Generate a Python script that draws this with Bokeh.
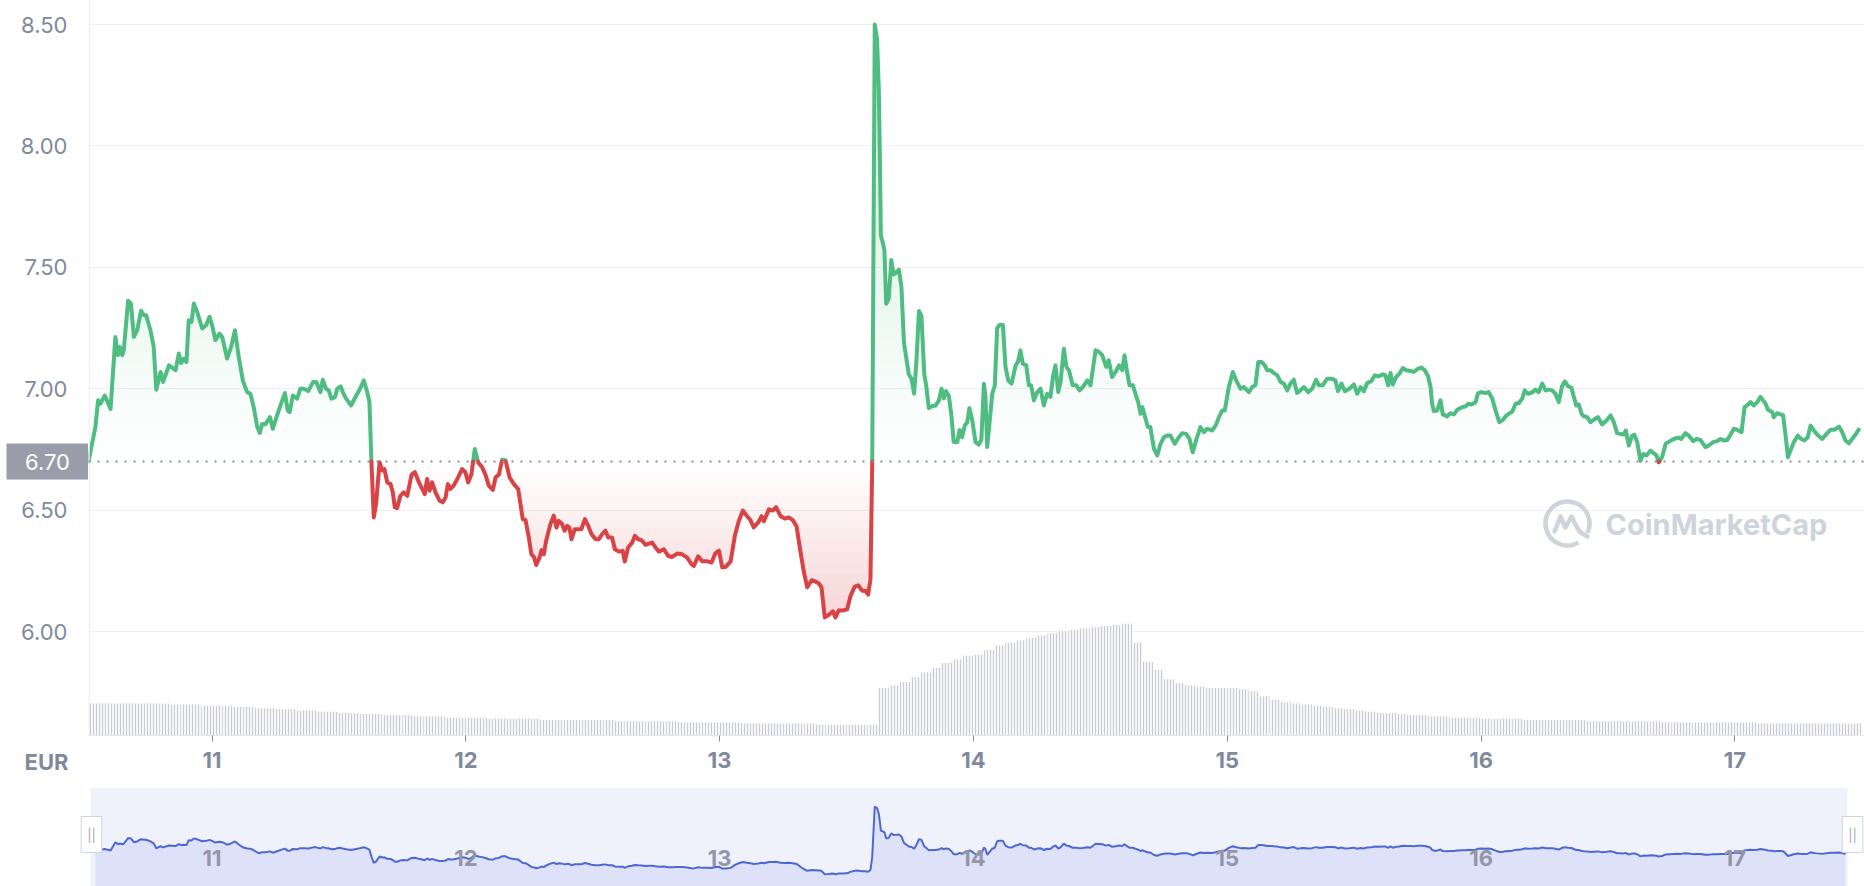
import numpy as np
from bokeh.plotting import figure
from bokeh.layouts import column, row
from bokeh.models import Range1d, FixedTicker, Label, Span, Grid
from bokeh.core.properties import value
from bokeh.embed import file_html
from bokeh.resources import INLINE

# ---------------- data ----------------
# time in days of the month, price in EUR
t_a = [10.513, 10.540, 10.551, 10.560, 10.577, 10.600, 10.619, 10.629, 10.636, 10.646,
       10.652, 10.669, 10.680, 10.692, 10.705, 10.720, 10.731, 10.740, 10.757, 10.770,
       10.780, 10.797, 10.807, 10.830, 10.856, 10.869, 10.878, 10.889, 10.899, 10.908,
       10.919, 10.928, 10.941, 10.961, 10.977, 10.990, 11.000, 11.013, 11.029, 11.040,
       11.059, 11.075, 11.090, 11.105, 11.121, 11.138, 11.151, 11.164, 11.178, 11.188,
       11.197, 11.210, 11.228, 11.239, 11.256, 11.274, 11.287, 11.298, 11.306, 11.318,
       11.335, 11.348, 11.362, 11.379, 11.398, 11.410, 11.427, 11.436, 11.449, 11.460,
       11.470, 11.484, 11.493, 11.506, 11.515, 11.528, 11.548, 11.568, 11.581, 11.598,
       11.611, 11.620, 11.628, 11.637, 11.646, 11.660, 11.670, 11.679, 11.690, 11.703,
       11.712, 11.720]
p_a = [6.70, 6.842, 6.952, 6.938, 6.972, 6.917, 7.213, 7.138, 7.172, 7.138,
       7.158, 7.362, 7.351, 7.213, 7.241, 7.321, 7.303, 7.303, 7.241, 7.172,
       6.996, 7.069, 7.028, 7.096, 7.076, 7.145, 7.106, 7.124, 7.110, 7.282,
       7.275, 7.351, 7.317, 7.248, 7.262, 7.296, 7.262, 7.200, 7.227, 7.213,
       7.124, 7.172, 7.241, 7.131, 7.034, 6.986, 6.979, 6.924, 6.842, 6.818,
       6.855, 6.853, 6.883, 6.835, 6.890, 6.945, 6.982, 6.910, 6.904, 6.972,
       6.959, 7.000, 7.000, 6.990, 7.028, 7.028, 6.986, 7.037, 7.000, 6.993,
       6.959, 6.966, 7.000, 7.010, 6.986, 6.959, 6.931, 6.972, 6.996, 7.034,
       6.986, 6.945, 6.690, 6.470, 6.525, 6.697, 6.663, 6.669, 6.614, 6.607,
       6.573, 6.511]

t_b = [11.729, 11.742, 11.755, 11.769, 11.786, 11.799, 11.815, 11.838, 11.847, 11.857,
       11.867, 11.880, 11.896, 11.909, 11.920, 11.929, 11.939, 11.952, 11.966, 11.985,
       11.998, 12.009, 12.022, 12.035, 12.048, 12.064, 12.077, 12.090, 12.106, 12.117,
       12.130, 12.143, 12.156, 12.172, 12.189, 12.206, 12.215, 12.224, 12.235, 12.248,
       12.258, 12.268, 12.277, 12.290, 12.298, 12.307, 12.316, 12.333, 12.346, 12.357,
       12.366, 12.379, 12.389, 12.399, 12.408, 12.416, 12.429, 12.442, 12.455, 12.469,
       12.482, 12.495, 12.511, 12.524, 12.537, 12.550, 12.561, 12.576, 12.587, 12.603,
       12.618, 12.626, 12.639, 12.655, 12.666, 12.679, 12.692, 12.708, 12.721, 12.734,
       12.747, 12.760, 12.780, 12.797, 12.813, 12.832, 12.852, 12.872, 12.889, 12.898]
p_b = [6.508, 6.559, 6.573, 6.559, 6.646, 6.656, 6.614, 6.566, 6.628, 6.580,
       6.614, 6.573, 6.539, 6.532, 6.552, 6.607, 6.587, 6.601, 6.628, 6.669,
       6.656, 6.614, 6.649, 6.752, 6.697, 6.676, 6.646, 6.601, 6.583, 6.635,
       6.646, 6.708, 6.705, 6.635, 6.607, 6.587, 6.525, 6.463, 6.459, 6.387,
       6.318, 6.307, 6.274, 6.304, 6.335, 6.318, 6.373, 6.442, 6.477, 6.428,
       6.456, 6.442, 6.415, 6.435, 6.428, 6.380, 6.421, 6.421, 6.421, 6.463,
       6.435, 6.401, 6.380, 6.380, 6.401, 6.415, 6.387, 6.387, 6.339, 6.329,
       6.332, 6.288, 6.346, 6.366, 6.394, 6.380, 6.376, 6.357, 6.362, 6.366,
       6.346, 6.329, 6.339, 6.311, 6.307, 6.321, 6.318, 6.304, 6.277, 6.270]

t_c = [12.915, 12.931, 12.951, 12.968, 12.983, 12.997, 13.010, 13.025, 13.043, 13.060,
       13.075, 13.091, 13.108, 13.121, 13.134, 13.152, 13.165, 13.174, 13.194, 13.209,
       13.222, 13.240, 13.257, 13.272, 13.288, 13.303, 13.318, 13.331, 13.345, 13.362,
       13.377, 13.391, 13.401, 13.414, 13.430, 13.446, 13.456, 13.469, 13.483, 13.502,
       13.515, 13.532, 13.546, 13.561, 13.574, 13.585, 13.594, 13.601, 13.611, 13.620,
       13.627, 13.631, 13.635, 13.643, 13.649, 13.656, 13.666, 13.676, 13.686, 13.697,
       13.706, 13.716, 13.726, 13.736, 13.745, 13.756, 13.766, 13.775, 13.785, 13.795,
       13.806, 13.814, 13.824, 13.840, 13.850, 13.863, 13.874, 13.883, 13.892, 13.903,
       13.913, 13.922, 13.936, 13.945, 13.955, 13.966, 13.975, 13.984, 13.995, 14.008,
       14.021, 14.031, 14.041, 14.047, 14.054]
p_c = [6.310, 6.289, 6.289, 6.284, 6.322, 6.333, 6.264, 6.267, 6.289, 6.396,
       6.454, 6.498, 6.475, 6.459, 6.429, 6.449, 6.475, 6.454, 6.503, 6.498,
       6.512, 6.475, 6.465, 6.470, 6.459, 6.432, 6.330, 6.248, 6.182, 6.211,
       6.206, 6.198, 6.182, 6.058, 6.069, 6.083, 6.058, 6.087, 6.086, 6.091,
       6.145, 6.185, 6.190, 6.168, 6.168, 6.152, 6.215, 6.693, 8.500, 8.440,
       8.230, 7.960, 7.630, 7.600, 7.570, 7.350, 7.370, 7.530, 7.470, 7.480,
       7.490, 7.420, 7.190, 7.120, 7.060, 7.040, 6.980, 7.110, 7.320, 7.300,
       7.060, 7.010, 6.920, 6.930, 6.930, 6.950, 7.000, 6.960, 6.990, 6.970,
       6.890, 6.780, 6.780, 6.830, 6.800, 6.850, 6.860, 6.920, 6.870, 6.780,
       6.770, 6.790, 7.020, 6.970, 6.760]

t_d = [14.074, 14.084, 14.093, 14.102, 14.116, 14.126, 14.137, 14.150, 14.166, 14.175,
       14.185, 14.194, 14.208, 14.218, 14.227, 14.238, 14.251, 14.264, 14.277, 14.290,
       14.303, 14.314, 14.323, 14.334, 14.343, 14.356, 14.366, 14.376, 14.391, 14.405,
       14.418, 14.431, 14.448, 14.461, 14.481, 14.494, 14.507, 14.523, 14.533, 14.546,
       14.560, 14.573, 14.586, 14.595, 14.605, 14.615, 14.628, 14.638, 14.649, 14.658,
       14.665, 14.678, 14.687, 14.697, 14.711, 14.724, 14.737, 14.750, 14.763, 14.776,
       14.793, 14.809, 14.822, 14.838, 14.851, 14.864, 14.877, 14.894, 14.908, 14.921,
       14.940, 14.954, 14.967, 14.980, 14.990, 15.006, 15.022, 15.035, 15.052, 15.065,
       15.085, 15.098, 15.111, 15.122, 15.135, 15.148, 15.157, 15.170, 15.183, 15.197,
       15.210, 15.223, 15.236, 15.249, 15.262]
p_d = [6.979, 7.014, 7.248, 7.262, 7.262, 7.090, 7.034, 7.021, 7.096, 7.110,
       7.158, 7.103, 7.096, 7.014, 7.014, 6.952, 6.986, 7.000, 6.931, 6.979,
       6.966, 7.055, 7.096, 6.986, 7.028, 7.165, 7.090, 7.076, 7.014, 7.014,
       6.993, 7.007, 7.034, 7.014, 7.158, 7.152, 7.138, 7.090, 7.117, 7.048,
       7.069, 7.096, 7.076, 7.138, 7.069, 7.014, 7.014, 6.979, 6.945, 6.897,
       6.924, 6.876, 6.842, 6.842, 6.752, 6.725, 6.773, 6.800, 6.807, 6.807,
       6.773, 6.800, 6.817, 6.814, 6.793, 6.738, 6.787, 6.842, 6.821, 6.835,
       6.828, 6.848, 6.883, 6.910, 6.910, 7.007, 7.069, 7.034, 7.000, 7.007,
       6.986, 7.007, 7.014, 7.110, 7.110, 7.096, 7.076, 7.076, 7.065, 7.055,
       7.028, 7.021, 6.993, 7.021, 7.037]

t_e = [15.275, 15.288, 15.302, 15.319, 15.334, 15.350, 15.361, 15.376, 15.393, 15.413,
       15.426, 15.436, 15.450, 15.463, 15.481, 15.499, 15.512, 15.525, 15.538, 15.551,
       15.568, 15.581, 15.597, 15.613, 15.623, 15.634, 15.643, 15.652, 15.665, 15.678,
       15.692, 15.705, 15.722, 15.735, 15.752, 15.765, 15.778, 15.791, 15.801, 15.807,
       15.814, 15.827, 15.840, 15.849, 15.866, 15.879, 15.893, 15.906, 15.925, 15.939,
       15.949, 15.962, 15.978, 15.988, 16.002, 16.017, 16.030, 16.044, 16.057, 16.072,
       16.086, 16.096, 16.112, 16.122, 16.136, 16.149, 16.162, 16.172, 16.185, 16.201,
       16.214, 16.227, 16.241, 16.254, 16.267, 16.280, 16.293, 16.306, 16.319, 16.330,
       16.343, 16.356, 16.365, 16.375, 16.385, 16.396, 16.405, 16.418, 16.431, 16.444]
p_e = [6.982, 6.993, 7.007, 6.986, 7.000, 7.037, 7.014, 7.014, 7.041, 7.041,
       7.034, 6.990, 7.021, 6.990, 7.000, 7.018, 6.979, 7.007, 6.990, 7.023,
       7.032, 7.055, 7.051, 7.059, 7.055, 7.014, 7.065, 7.017, 7.048, 7.062,
       7.085, 7.076, 7.073, 7.069, 7.083, 7.087, 7.076, 7.051, 7.007, 6.938,
       6.908, 6.910, 6.952, 6.894, 6.886, 6.899, 6.894, 6.913, 6.924, 6.927,
       6.938, 6.935, 6.944, 6.982, 6.986, 6.982, 6.986, 6.959, 6.910, 6.862,
       6.872, 6.886, 6.899, 6.904, 6.938, 6.941, 6.959, 6.993, 6.979, 6.985,
       6.996, 6.986, 7.021, 6.993, 6.996, 6.993, 6.979, 6.945, 7.010, 7.030,
       7.010, 7.004, 6.968, 6.931, 6.935, 6.897, 6.886, 6.883, 6.862, 6.872]

t_f = [16.460, 16.477, 16.494, 16.510, 16.523, 16.536, 16.549, 16.562, 16.570, 16.582,
       16.595, 16.604, 16.615, 16.628, 16.639, 16.652, 16.667, 16.681, 16.691, 16.700,
       16.713, 16.727, 16.744, 16.759, 16.775, 16.788, 16.805, 16.818, 16.836, 16.849,
       16.864, 16.884, 16.897, 16.914, 16.930, 16.943, 16.956, 16.970, 16.983, 16.996,
       17.009, 17.026, 17.038, 17.048, 17.061, 17.075, 17.088, 17.101, 17.111, 17.121,
       17.130, 17.147, 17.153, 17.166, 17.180, 17.190, 17.199, 17.209, 17.219, 17.232,
       17.248, 17.261, 17.274, 17.287, 17.298, 17.311, 17.324, 17.344, 17.361, 17.377,
       17.392, 17.410, 17.423, 17.436, 17.449, 17.462, 17.475, 17.488]
p_f = [6.883, 6.853, 6.869, 6.890, 6.862, 6.817, 6.814, 6.811, 6.828, 6.766,
       6.807, 6.810, 6.780, 6.703, 6.731, 6.725, 6.745, 6.734, 6.725, 6.697,
       6.718, 6.773, 6.784, 6.793, 6.798, 6.793, 6.817, 6.807, 6.784, 6.793,
       6.789, 6.759, 6.766, 6.780, 6.784, 6.793, 6.787, 6.789, 6.811, 6.835,
       6.831, 6.821, 6.924, 6.931, 6.945, 6.931, 6.945, 6.966, 6.952, 6.938,
       6.913, 6.904, 6.883, 6.899, 6.894, 6.890, 6.814, 6.718, 6.745, 6.780,
       6.807, 6.793, 6.787, 6.800, 6.848, 6.828, 6.811, 6.793, 6.814, 6.831,
       6.831, 6.844, 6.821, 6.787, 6.775, 6.793, 6.811, 6.831]

# hourly volume (arbitrary units), starting 10th 12:00
volume_start = 10.5
volume_hourly = [27, 27, 27, 27, 27, 27, 27, 27, 26, 26, 26, 25,
                 25, 25, 24, 24, 23, 23, 22, 22, 21, 21, 20, 20,
                 19, 19, 18, 18, 17, 17, 17, 16, 16, 16, 15, 15,
                 15, 15, 14, 14, 14, 14, 14, 13, 13, 13, 13, 13,
                 13, 13, 12, 12, 12, 12, 12, 12, 11, 11, 11, 11,
                 11, 11, 10, 10, 10, 10, 10, 10, 10, 9, 9, 9,
                 9, 9, 9, 40, 42, 45, 49, 53, 57, 61, 64, 67,
                 68, 72, 76, 78, 80, 82, 84, 86, 88, 89, 90, 91,
                 92, 93, 94, 78, 62, 55, 47, 44, 42, 41, 40, 40,
                 40, 39, 37, 33, 30, 28, 27, 26, 25, 24, 23, 22,
                 21, 20, 19, 19, 18, 17, 17, 16, 16, 15, 15, 15,
                 14, 14, 14, 14, 13, 13, 13, 13, 13, 13, 12, 12,
                 12, 12, 12, 12, 12, 11, 11, 11, 11, 11, 11, 11,
                 11, 11, 10, 10, 10, 10, 10, 10, 10, 10, 10, 10]

base_price = 6.70
base_label = "6.70"
y_ticks = [6.0, 6.5, 7.0, 7.5, 8.0, 8.5]
y_tick_labels = ["6.00", "6.50", "7.00", "7.50", "8.00", "8.50"]
tick_days = [11, 12, 13, 14, 15, 16, 17]
tick_labels = ["11", "12", "13", "14", "15", "16", "17"]
currency = "EUR"
watermark = "CoinMarketCap"

# ---------------- styles / layout ----------------
GREEN = "#4fbc82"
RED = "#d94345"
GRAY = "#808a9d"
FONT = "Inter"
LEFT_W = 88            # width of the left label panel
MAIN_W = 1776          # main plot frame width
FRAME_H = 735          # main plot frame height
MAIN_H = 787           # main figure height (frame + x axis)
NAV_H = 99

times = np.array(t_a + t_b + t_c + t_d + t_e + t_f)
prices = np.array(p_a + p_b + p_c + p_d + p_e + p_f)

# split the line into runs above / below the base price
runs = []
cx, cy = [times[0]], [prices[0]]
cur_up = prices[0] >= base_price
for i in range(1, len(times)):
    up = prices[i] >= base_price
    if up != cur_up:
        f = (base_price - prices[i - 1]) / (prices[i] - prices[i - 1])
        xc = times[i - 1] + f * (times[i] - times[i - 1])
        cx.append(xc); cy.append(base_price)
        runs.append((cur_up, cx, cy))
        cx, cy = [xc], [base_price]
        cur_up = up
    cx.append(times[i]); cy.append(prices[i])
runs.append((cur_up, cx, cy))

dense_x = np.concatenate([np.array(r[1]) for r in runs])
dense_y = np.concatenate([np.array(r[2]) for r in runs])

# ---------------- main figure ----------------
px_per_day = 253.8
px_per_eur = 242.8
X0 = 10.513
X1 = X0 + MAIN_W / px_per_day
Y1 = 8.5 + 24 / px_per_eur
Y0 = 6.0 - (FRAME_H - 631) / px_per_eur
xpp = (X1 - X0) / MAIN_W
ypp = (Y1 - Y0) / FRAME_H

p = figure(width=MAIN_W, height=MAIN_H, x_range=Range1d(X0, X1), y_range=Range1d(Y0, Y1),
           output_backend="svg", toolbar_location=None,
           min_border_left=0, min_border_right=0, min_border_top=0,
           min_border_bottom=MAIN_H - FRAME_H)
p.outline_line_color = None
p.yaxis.visible = False
p.xgrid.grid_line_color = None
p.ygrid.ticker = FixedTicker(ticks=y_ticks)
p.ygrid.grid_line_color = "#eceff3"
p.ygrid.grid_line_width = 1

p.xaxis.ticker = FixedTicker(ticks=tick_days)
p.xaxis.major_label_overrides = {d: s for d, s in zip(tick_days, tick_labels)}
p.xaxis.axis_line_color = "#e6e8ec"
p.xaxis.major_tick_line_color = GRAY
p.xaxis.major_tick_in = 0
p.xaxis.major_tick_out = 6
p.xaxis.minor_tick_line_color = None
p.xaxis.major_label_standoff = 10
p.xaxis.major_label_text_font = FONT
p.xaxis.major_label_text_font_style = "bold"
p.xaxis.major_label_text_font_size = "22px"
p.xaxis.major_label_text_color = GRAY

# left edge line
p.add_layout(Span(location=X0 + 0.6 * xpp, dimension="height", line_color="#e8ebef", line_width=1.2))

# volume bars
p.extra_y_ranges = {"vol": Range1d(0, FRAME_H / 1.189)}
vol_x = [volume_start + (i + 0.5) / 24 for i in range(len(volume_hourly))]
p.vbar(x=vol_x, top=volume_hourly, width=1 / 24, y_range_name="vol",
       fill_color="#f6f6f8", line_color=None,
       hatch_pattern="|", hatch_color="#c9ccd3", hatch_scale=3, hatch_weight=1)

# gradient fills (bands)
top = prices.max()
nb = 36
edges = np.linspace(base_price, top, nb + 1)
for i in range(nb):
    lo, hi = edges[i], edges[i + 1]
    y2 = np.clip(dense_y, lo, hi)
    a = 0.28 * ((lo + hi) / 2 - base_price) / (top - base_price)
    p.varea(x=dense_x, y1=np.full(len(dense_x), lo), y2=y2, fill_color=GREEN, fill_alpha=a)
bot = prices.min()
nr = 14
edges = np.linspace(bot, base_price, nr + 1)
for i in range(nr):
    lo, hi = edges[i], edges[i + 1]
    y1 = np.clip(dense_y, lo, hi)
    a = 0.22 * (base_price - (lo + hi) / 2) / (base_price - bot)
    p.varea(x=dense_x, y1=y1, y2=np.full(len(dense_x), hi), fill_color=RED, fill_alpha=a)

# base line
p.add_layout(Span(location=base_price, dimension="width", line_color="#8c909c",
                  line_dash="2 7", line_width=2))

# price line
p.multi_line(xs=[r[1] for r in runs if r[0]], ys=[r[2] for r in runs if r[0]],
             line_color=GREEN, line_width=4, line_join="round", line_cap="round")
p.multi_line(xs=[r[1] for r in runs if not r[0]], ys=[r[2] for r in runs if not r[0]],
             line_color=RED, line_width=4, line_join="round", line_cap="round")

# watermark
p.add_layout(Label(x=1517, y=211, x_units="screen", y_units="screen", text=watermark,
                   text_align="left", text_baseline="middle", text_color="#cfd3dc",
                   text_font=FONT, text_font_style="bold", text_font_size="29px"))
lcx = X0 + 1479 * xpp
lcy = Y0 + 212 * ypp
p.arc(x=[lcx], y=[lcy], radius=22, radius_units="screen", start_angle=-0.45,
      end_angle=-1.05, direction="anticlock", line_color="#cfd3dc", line_width=4.5)
wave_px = [(-13, -8), (-7, 7), (-2, -4), (4, 7), (9, -3), (13, -9), (20, -13)]
p.line(x=[lcx + dx * xpp for dx, dy in wave_px], y=[lcy + dy * ypp for dx, dy in wave_px],
       line_color="#cfd3dc", line_width=4.5, line_join="round", line_cap="round")

# ---------------- left label panel (frames are aligned with the main plot) ----------------
left = figure(width=LEFT_W, height=MAIN_H, x_range=Range1d(0, LEFT_W), y_range=Range1d(Y0, Y1),
              output_backend="svg", toolbar_location=None,
              min_border_left=0, min_border_right=0, min_border_top=0,
              min_border_bottom=MAIN_H - FRAME_H)
left.outline_line_color = None
left.grid.visible = False
left.yaxis.visible = False
left.xaxis.ticker = FixedTicker(ticks=[46])
left.xaxis.major_label_overrides = {46: currency}
left.xaxis.axis_line_color = None
left.xaxis.major_tick_line_color = None
left.xaxis.minor_tick_line_color = None
left.xaxis.major_tick_out = 0
left.xaxis.major_tick_in = 0
left.xaxis.major_label_standoff = 13
left.xaxis.major_label_text_font = FONT
left.xaxis.major_label_text_font_style = "bold"
left.xaxis.major_label_text_font_size = "22px"
left.xaxis.major_label_text_color = GRAY

left.text(x=[67] * len(y_ticks), y=y_ticks, text=y_tick_labels, text_align="right",
          text_baseline="middle", text_color=GRAY, text_font=value(FONT), text_font_size="22px")
left.quad(left=[6], right=[LEFT_W], bottom=[base_price - 18 * ypp], top=[base_price + 18 * ypp],
          fill_color="#9a9da9", line_color=None)
left.text(x=[47], y=[base_price], text=[base_label], text_align="center", text_baseline="middle",
          text_color="white", text_font=value(FONT), text_font_size="22px")

# ---------------- navigator ----------------
NAV_LEFT = 78
NX0 = X0 + (90 - LEFT_W) * xpp
NX1 = X0 + (1847 - LEFT_W) * xpp
nav_per_eur = 27.76
NY1 = 8.5 + 19 / nav_per_eur
NY0 = 6.05 - 12 / nav_per_eur
nav = figure(width=LEFT_W + MAIN_W, height=NAV_H,
             x_range=Range1d(X0 + (NAV_LEFT - LEFT_W) * xpp, X1), y_range=Range1d(NY0, NY1),
             output_backend="svg", toolbar_location=None, x_axis_type=None, y_axis_type=None,
             min_border_left=NAV_LEFT, min_border_right=0, min_border_top=0, min_border_bottom=0)
nav.outline_line_color = None
nav.background_fill_color = "white"
nav.grid.visible = False
nav.quad(left=[NX0], right=[NX1], bottom=[NY0], top=[NY1], fill_color="#eff1fb", line_color=None)
nav.add_layout(Grid(dimension=0, ticker=FixedTicker(ticks=tick_days),
                    grid_line_color="#d3d7e6", grid_line_width=1.5))
sel = (times >= NX0) & (times <= NX1)
nav.varea(x=times[sel], y1=np.full(int(sel.sum()), prices.min() - 1.0), y2=prices[sel],
          fill_color="#dde2f8", fill_alpha=1.0)
nav.line(times[sel], prices[sel], line_color="#4e67d2", line_width=2)
for d, s in zip(tick_days, tick_labels):
    nav.add_layout(Label(x=d, y=29, x_units="data", y_units="screen", text=s,
                         text_align="center", text_baseline="middle", text_color="#9296a6",
                         text_font=FONT, text_font_style="bold", text_font_size="22px"))
for hx in (91 - NAV_LEFT, 1852 - NAV_LEFT):
    nav.add_layout(Label(x=hx, y=52, x_units="screen", y_units="screen", text="||",
                         text_align="center", text_baseline="middle", text_color="#a3a7b3",
                         text_font=FONT, text_font_size="13px",
                         background_fill_color="white", background_fill_alpha=1.0,
                         border_line_color="#d0d3dc", border_line_width=1,
                         padding=dict(left=6, right=6, top=10, bottom=10)))

layout = column(row(left, p), nav)
open("out.html", "w").write(file_html(layout, INLINE))
